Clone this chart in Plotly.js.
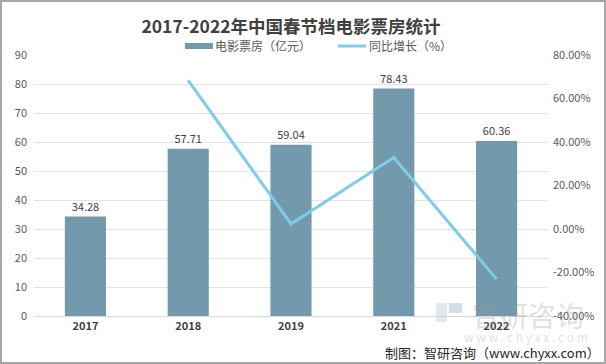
<!DOCTYPE html>
<html><head><meta charset="utf-8">
<script src="https://cdn.plot.ly/plotly-3.0.1.min.js"></script>
<style>html,body{margin:0;padding:0;background:#fff;}#c{width:606px;height:364px;}</style>
</head><body><div id="c"></div>
<script>
const years = ['2017','2018','2019','2021','2022'];
const boxOffice = [34.28, 57.71, 59.04, 78.43, 60.36];
const growthYears = ['2018','2019','2021','2022'];
const growth = [68.35, 2.31, 32.84, -23.04];
const leftTicks = [0,10,20,30,40,50,60,70,80,90];
const rightTicks = [-40,-20,0,20,40,60,80];

const font = 'Noto Sans CJK SC, Noto Sans, sans-serif';
const L = 34, R = 58, T = 55, B = 48, W = 606, H = 364;
const pw = W - L - R, ph = H - T - B;
const px = x => (x - L) / pw;
const py = y => (H - B - y) / ph;

const traces = [
  {type:'bar', x:years, y:boxOffice, name:'电影票房（亿元）', marker:{color:'#7399AC'},
   text:boxOffice.map(v=>v.toFixed(2)), textposition:'outside', cliponaxis:false,
   textfont:{family:font, size:11, color:'#404040'}, width:0.4, showlegend:false, hoverinfo:'skip'},
  {type:'scatter', mode:'lines', x:growthYears, y:growth, yaxis:'y2', name:'同比增长（%）',
   line:{color:'#7ECCEA', width:3}, showlegend:false, hoverinfo:'skip'}
];

const layout = {
  width:W, height:H, margin:{l:L, r:R, t:T, b:B},
  paper_bgcolor:'#fff', plot_bgcolor:'#fff',
  font:{family:font, color:'#595959', size:11},
  title:{text:'<b>2017-2022年中国春节档电影票房统计</b>', x:0.5, xref:'paper', y:1-27/H, yanchor:'middle',
    font:{family:font, size:17.5, color:'#404040'}},
  xaxis:{type:'category', categoryorder:'array', categoryarray:years, showgrid:false,
    showline:true, linecolor:'#d9d9d9', ticks:'', tickfont:{family:font, size:11, color:'#404040', weight:'bold'}},
  yaxis:{range:[0,90], tickvals:leftTicks, gridcolor:'#e3e3e3', zeroline:false, ticks:'', ticklen:0,
    tickfont:{family:font, size:11, color:'#595959'}, ticklabelstandoff:6},
  yaxis2:{overlaying:'y', side:'right', range:[-40,80], tickvals:rightTicks,
    ticktext:rightTicks.map(v=>v.toFixed(2)+'%'), showgrid:false, zeroline:false,
    tickfont:{family:font, size:11, color:'#595959'}, ticklabelstandoff:4},
  bargap:0.6,
  shapes:[
    {type:'rect', xref:'paper', yref:'paper', x0:px(1), x1:px(605), y0:py(1), y1:py(363), line:{color:'#a6a6a6', width:2}, fillcolor:'rgba(0,0,0,0)', layer:'above'},
    {type:'rect', xref:'paper', yref:'paper', x0:px(185), x1:px(213), y0:py(49), y1:py(43), fillcolor:'#7399AC', line:{width:0}},
    {type:'line', xref:'paper', yref:'paper', x0:px(338), x1:px(366), y0:py(46), y1:py(46), line:{color:'#7ECCEA', width:3}},
    {type:'rect', xref:'paper', yref:'paper', x0:px(436), x1:px(447), y0:py(322), y1:py(303), fillcolor:'rgba(200,210,220,0.5)', line:{width:0}},
    {type:'rect', xref:'paper', yref:'paper', x0:px(449), x1:px(462), y0:py(313), y1:py(303), fillcolor:'rgba(120,160,200,0.35)', line:{width:0}}
  ],
  annotations:[
    {xref:'paper', yref:'paper', x:px(213), y:py(46), xanchor:'left', yanchor:'middle', text:'电影票房（亿元）', showarrow:false, font:{family:font, size:12, color:'#595959'}},
    {xref:'paper', yref:'paper', x:px(367), y:py(46), xanchor:'left', yanchor:'middle', text:'同比增长（%）', showarrow:false, font:{family:font, size:12, color:'#595959'}},
    {xref:'paper', yref:'paper', x:px(470), y:py(315), xanchor:'left', yanchor:'middle', text:'智研咨询', showarrow:false, font:{family:font, size:28, color:'rgba(150,150,150,0.3)'}},
    {xref:'paper', yref:'paper', x:px(590), y:py(336), xanchor:'right', yanchor:'middle', text:'w w w . c h y x x . c o m', showarrow:false, font:{family:font, size:12, color:'rgba(150,150,150,0.3)'}},
    {xref:'paper', yref:'paper', x:px(602), y:py(352), xanchor:'right', yanchor:'middle', text:'制图：智研咨询（www.chyxx.com）', showarrow:false, font:{family:font, size:13, color:'#262626'}}
  ]
};
Plotly.newPlot('c', traces, layout, {staticPlot:true, displayModeBar:false});
</script></body></html>
